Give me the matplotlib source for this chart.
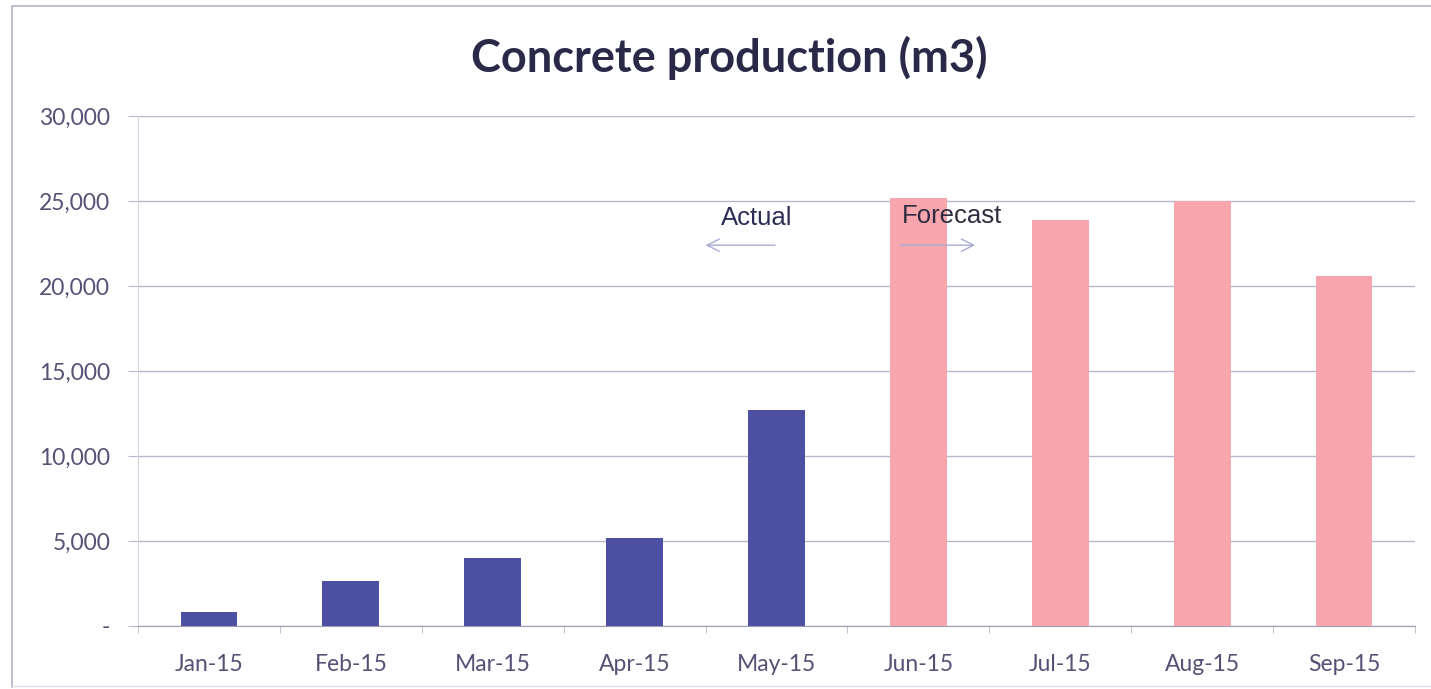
import matplotlib.pyplot as plt
from matplotlib.lines import Line2D
from matplotlib.ticker import FuncFormatter, FixedLocator
import numpy as np

# monthly concrete output, actual then forecast
months = ["Jan-15", "Feb-15", "Mar-15", "Apr-15", "May-15",
          "Jun-15", "Jul-15", "Aug-15", "Sep-15"]
actual = [800, 2650, 4000, 5150, 12700]
forecast = [25200, 23900, 25000, 20600]

NAVY = "#4d4fa3"
PINK = "#f7a6ad"
GRID = "#b9b6cc"
LABEL = "#595075"

plt.rcParams['font.family'] = ['Lato', 'DejaVu Sans']

fig = plt.figure(figsize=(14.31, 6.89), dpi=100)
ax = fig.add_axes([138 / 1431, 1 - 626 / 689, (1415 - 138) / 1431, (626 - 116) / 689])

x = np.arange(len(months))
n_act = len(actual)
ax.bar(x[:n_act], actual, width=0.4, color=NAVY, zorder=3)
ax.bar(x[n_act:], forecast, width=0.4, color=PINK, zorder=3)

ax.set_xlim(-0.5, len(months) - 0.5)
ax.set_ylim(0, 30000)
ax.set_yticks(np.arange(0, 30001, 5000))
ax.yaxis.set_major_formatter(FuncFormatter(lambda v, p: "-" if v == 0 else f"{int(v):,}"))
ax.grid(axis="y", color=GRID, linewidth=1.0, zorder=0)

ax.set_xticks(x)
ax.set_xticklabels(months)
ax.xaxis.set_minor_locator(FixedLocator(np.arange(-0.5, len(months), 1.0)))
ax.tick_params(axis="x", which="major", length=0, pad=20, labelsize=16.5, labelcolor=LABEL)
ax.tick_params(axis="x", which="minor", length=5, color=GRID, direction="out")
ax.tick_params(axis="y", length=7, color=GRID, pad=13, labelsize=16.5, labelcolor=LABEL)

for side in ["top", "right"]:
    ax.spines[side].set_visible(False)
ax.spines["left"].set_color("#d6d4e2")
ax.spines["bottom"].set_color("#9e9bb3")

# split between actual and forecast
ax.text(3.86, 24000, "Actual", family="Liberation Sans", fontsize=18.5,
        color="#2e2d55", ha="center", va="center")
ax.annotate("", xy=(3.48, 22400), xytext=(4.01, 22400),
            arrowprops=dict(arrowstyle="->", color="#a9acd6", lw=1.0,
                            mutation_scale=22))
ax.text(5.24, 24100, "Forecast", family="Liberation Sans", fontsize=18.5,
        color="#2e2d3f", ha="center", va="center", zorder=4)
ax.annotate("", xy=(5.42, 22400), xytext=(4.85, 22400),
            arrowprops=dict(arrowstyle="->", color="#a9acd6", lw=1.0,
                            mutation_scale=22), zorder=4)

fig.text(729 / 1431, 1 - 58 / 689, "Concrete production (m3)", ha="center", va="center",
         fontsize=32.5, fontweight="bold", color="#2a2948")

# chart area border
fig.add_artist(Line2D([12 / 1431, 12 / 1431, 1.0], [1 - 687 / 689, 1 - 6 / 689, 1 - 6 / 689],
                      color="#b4b1c8", lw=1.2, transform=fig.transFigure))
fig.add_artist(Line2D([12 / 1431, 1.0], [1 - 686 / 689, 1 - 686 / 689],
                      color="#e2e0ec", lw=1.0, transform=fig.transFigure))

fig.savefig("out.png", dpi=100)
